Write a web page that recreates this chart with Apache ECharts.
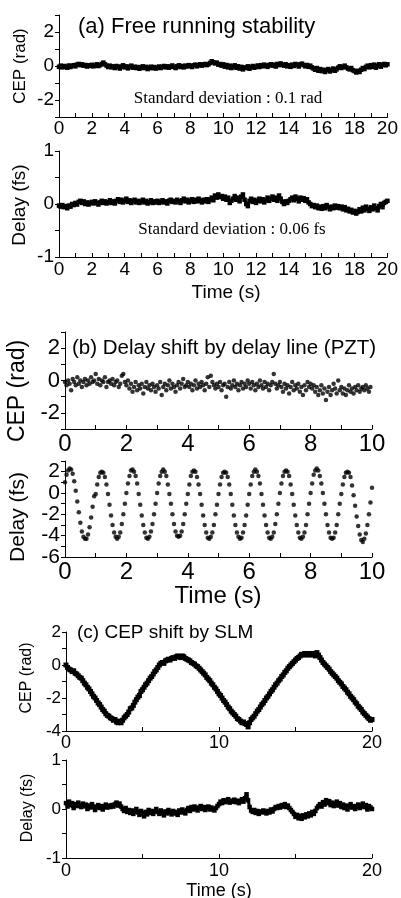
<!DOCTYPE html>
<html>
<head>
<meta charset="utf-8">
<script src="https://cdn.jsdelivr.net/npm/echarts@6/dist/echarts.min.js"></script>
<style>
  html, body { margin: 0; padding: 0; background: #fff; }
  #chart { width: 401px; height: 898px; }
</style>
</head>
<body>
<div id="chart"></div>
<script>
// (a) free running, 0.1 s per sample
const freeStep = 0.1
const cepFreeRun = [
  -0.05, 0.02, -0.08, 0.00, -0.04, -0.10, 0.03, -0.06, 0.01, 0.05,
  -0.02, 0.08, 0.12, 0.05, 0.10, 0.02, 0.06, -0.03, 0.04, 0.00,
  0.07, -0.02, 0.03, 0.10, 0.00, 0.05, 0.12, 0.20, 0.10, 0.02,
  -0.06, 0.02, -0.08, -0.02, -0.12, 0.00, -0.05, -0.15, -0.03, 0.04,
  -0.08, -0.02, -0.14, -0.05, 0.02, -0.10, -0.04, -0.12, -0.06, -0.16,
  -0.08, -0.02, -0.12, -0.05, -0.18, -0.10, -0.04, -0.13, -0.06, -0.15,
  -0.10, -0.03, -0.12, -0.05, 0.00, -0.08, -0.02, -0.10, -0.04, 0.03,
  -0.05, -0.12, -0.02, 0.04, -0.06, 0.00, -0.08, 0.02, -0.03, 0.05,
  0.00, -0.06, 0.04, 0.08, -0.02, 0.05, 0.10, 0.02, 0.08, 0.12,
  0.05, 0.10, 0.18, 0.28, 0.22, 0.15, 0.20, 0.08, 0.12, 0.02,
  0.10, -0.04, 0.06, -0.08, 0.02, -0.12, -0.03, 0.04, -0.10, -0.02,
  -0.15, -0.05, -0.20, -0.08, -0.12, -0.02, -0.16, -0.06, 0.00, -0.10,
  -0.04, 0.03, -0.06, 0.05, -0.02, 0.08, 0.02, -0.05, 0.06, 0.10,
  0.02, 0.08, -0.03, 0.12, 0.05, 0.15, 0.08, 0.02, 0.10, -0.02,
  0.05, -0.05, 0.08, 0.00, 0.12, 0.06, -0.03, 0.10, 0.14, 0.05,
  -0.02, 0.06, -0.05, 0.02, -0.08, -0.15, -0.22, -0.12, -0.28, -0.18,
  -0.30, -0.22, -0.35, -0.25, -0.18, -0.32, -0.24, -0.15, -0.28, -0.20,
  -0.10, -0.02, -0.12, -0.05, 0.02, -0.08, -0.15, -0.20, -0.12, -0.25,
  -0.30, -0.38, -0.28, -0.35, -0.22, -0.12, -0.18, -0.05, 0.02, -0.08,
  0.05, -0.05, 0.08, -0.10, 0.02, 0.10, -0.04, 0.06, 0.12, 0.04, 0.10
]
const delayFreeRun = [
  -0.03, -0.05, -0.02, -0.06, -0.04, -0.08, -0.03, -0.05, 0.00, -0.02,
  0.02, -0.01, 0.04, 0.06, 0.02, 0.05, 0.00, 0.03, -0.01, 0.02,
  0.04, 0.01, 0.05, 0.02, -0.01, 0.03, 0.06, 0.02, 0.05, 0.01,
  0.03, 0.07, 0.02, 0.05, 0.01, 0.06, 0.09, 0.04, 0.08, 0.03,
  0.06, 0.10, 0.04, 0.07, 0.02, 0.05, 0.08, 0.03, 0.06, 0.02,
  0.05, 0.08, 0.03, 0.06, 0.01, 0.04, 0.07, 0.02, 0.05, 0.03,
  0.06, 0.02, 0.04, 0.07, 0.03, 0.05, 0.01, 0.06, 0.08, 0.04,
  0.06, 0.03, 0.08, 0.05, 0.02, 0.07, 0.10, 0.05, 0.08, 0.03,
  0.06, 0.09, 0.04, 0.08, 0.05, 0.10, 0.06, 0.03, 0.08, 0.05,
  0.09, 0.04, 0.08, 0.12, 0.07, 0.16, 0.12, 0.18, 0.13, 0.15,
  0.10, 0.14, 0.08, 0.12, 0.02, 0.06, 0.10, 0.15, 0.08, 0.12,
  0.05, 0.14, 0.18, 0.08, 0.00, -0.04, 0.06, 0.10, 0.04, 0.08,
  0.02, 0.06, 0.10, 0.05, 0.09, 0.03, 0.07, 0.12, 0.06, 0.10,
  0.14, 0.08, 0.12, 0.06, 0.16, 0.10, 0.04, 0.00, 0.05, 0.02,
  0.06, 0.09, 0.12, 0.07, 0.14, 0.10, 0.05, 0.12, 0.08, 0.11,
  0.06, 0.09, 0.03, 0.00, -0.04, -0.02, -0.06, -0.03, -0.08, -0.05,
  -0.09, -0.04, -0.08, -0.02, -0.06, -0.10, -0.05, -0.08, -0.03, -0.07,
  -0.04, -0.08, -0.05, -0.10, -0.06, -0.12, -0.09, -0.14, -0.11, -0.16,
  -0.13, -0.18, -0.15, -0.10, -0.14, -0.07, -0.12, -0.05, -0.09, -0.13,
  -0.06, -0.10, -0.03, -0.08, -0.12, -0.04, 0.00, -0.06, 0.02, 0.04, 0.06
]

// (b) PZT delay line, 0.05 s per sample
const pztStep = 0.05
const cepPzt = [
  -0.1, -0.3, 0.0, -0.2, -0.6, 0.1, -0.1, -0.3, 0.2, -0.2, 0.0, -0.4, -0.1, 0.1, -0.3, 0.0, -0.2, 0.2, -0.1, 0.0,
  0.4, -0.2, 0.1, -0.3, 0.0, -0.1, 0.2, -0.4, -0.1, 0.0, -0.2, 0.1, -0.3, -0.1, 0.0, -0.4, -0.2, 0.3, 0.4, -0.1,
  -0.3, 0.0, -0.5, -0.2, -0.7, -0.4, -0.1, -0.6, -0.3, -0.5, -0.2, -0.8, -0.4, -0.1, -0.5, -0.3, -0.6, -0.2, -0.4, -0.7,
  -0.3, -0.5, -0.1, -0.9, -0.4, -0.2, -0.6, -0.3, 0.0, -0.5, -0.2, -0.4, -0.7, -0.3, -0.1, -0.5, -0.2, 0.1, -0.4, -0.3,
  -0.1, -0.4, -0.2, -0.6, -0.3, 0.0, -0.5, -0.2, -0.4, -0.1, -0.3, -0.6, -0.2, 0.2, -0.4, 0.3, -0.1, -0.3, -0.5, -0.2,
  -0.4, -0.1, -0.6, -0.3, -0.2, -1.0, -0.4, -0.1, -0.5, -0.3, 0.0, -0.4, -0.2, -0.6, -0.3, -0.1, -0.5, -0.2, -0.4, 0.0,
  -0.2, -0.5, -0.1, -0.3, -0.6, -0.2, -0.4, 0.0, -0.3, -0.5, -0.1, -0.4, -0.2, -0.6, -0.3, -0.1, 0.4, -0.2, -0.5, -0.3,
  -0.1, -0.4, -0.7, -0.2, -0.5, -0.3, -0.8, -0.4, -0.1, -0.6, -0.3, -0.5, -0.2, -0.7, -0.4, -0.9, -0.3, -0.6, -0.1, -0.4,
  -0.2, -0.5, -0.3, -0.7, -0.4, -0.9, -0.6, -0.3, -0.8, -0.5, -1.2, -0.7, -0.4, -0.9, -0.6, -0.2, -0.5, -0.8, 0.0, -0.6,
  -0.4, -0.8, -0.5, -0.9, -0.6, -0.3, -0.7, -0.5, -0.8, -0.4, -0.6, -0.3, -0.7, -0.5, -0.4, -0.6, -0.3, -0.5, -0.7, -0.4
]
const delayPzt = [
  1.0, 1.7, 2.1, 2.3, 2.2, 1.8, 1.1, 0.2, -0.8, -1.8, -2.8, -3.6, -4.1, -4.3, -4.3, -3.9, -3.2, -2.3, -1.3, -0.3,
  -0.1, 0.8, 1.5, 1.9, 2.0, 1.9, 1.5, 0.8, -0.1, -1.1, -2.1, -3.0, -3.7, -4.1, -4.3, -4.1, -3.7, -2.9, -2.0, -1.0,
  0.0, 0.9, 1.6, 2.1, 2.2, 2.0, 1.6, 0.9, -0.1, -1.1, -2.1, -3.0, -3.7, -4.2, -4.3, -4.1, -3.6, -2.9, -2.0, -1.0,
  0.0, 0.9, 1.6, 2.0, 2.2, 2.0, 1.6, 0.8, -0.1, -1.0, -2.0, -2.9, -3.6, -4.0, -4.1, -4.0, -3.6, -2.9, -2.0, -1.0,
  -0.1, 0.8, 1.6, 2.0, 2.1, 2.0, 1.5, 0.8, -0.1, -1.1, -2.1, -3.0, -3.7, -4.2, -4.3, -4.1, -3.7, -3.0, -2.0, -1.1,
  -0.1, 0.8, 1.5, 1.9, 2.0, 1.9, 1.5, 0.8, -0.1, -1.1, -2.1, -3.0, -3.7, -4.1, -4.3, -4.2, -3.7, -3.0, -2.1, -1.1,
  -0.1, 0.8, 1.6, 2.0, 2.2, 2.0, 1.6, 0.9, -0.1, -1.1, -2.1, -3.0, -3.7, -4.2, -4.3, -4.1, -3.7, -2.9, -2.0, -1.0,
  0.0, 0.9, 1.6, 2.0, 2.1, 2.0, 1.6, 0.8, -0.1, -1.1, -2.1, -3.0, -3.7, -4.2, -4.3, -4.1, -3.7, -3.0, -2.0, -1.0,
  0.0, 0.9, 1.7, 2.1, 2.3, 2.1, 1.6, 0.9, 0.0, -1.0, -2.0, -3.0, -3.7, -4.2, -4.3, -4.2, -3.7, -3.0, -2.0, -1.0,
  -0.1, 0.8, 1.5, 1.9, 2.0, 1.9, 1.5, 0.7, -0.2, -1.2, -2.2, -3.1, -3.9, -4.4, -4.6, -4.3, -3.8, -3.0, -2.0, -0.9,
  0.5
]

// (c) SLM, 0.1 s per sample
const slmStep = 0.1
const cepSlm = [
  0.0, -0.15, -0.25, -0.3, -0.4, -0.35, -0.5, -0.55, -0.65, -0.75,
  -0.8, -0.95, -1.1, -1.2, -1.35, -1.45, -1.6, -1.75, -1.9, -2.0,
  -2.15, -2.3, -2.4, -2.55, -2.7, -2.8, -2.95, -3.05, -3.1, -3.2,
  -3.25, -3.35, -3.3, -3.45, -3.5, -3.4, -3.5, -3.35, -3.2, -3.1,
  -3.0, -2.85, -2.65, -2.6, -2.45, -2.25, -2.1, -1.95, -1.85, -1.6,
  -1.5, -1.35, -1.2, -1.1, -0.95, -0.8, -0.7, -0.55, -0.4, -0.3,
  -0.15, 0.0, 0.1, 0.15, 0.1, 0.25, 0.3, 0.35, 0.3, 0.4,
  0.45, 0.4, 0.5, 0.55, 0.5, 0.45, 0.55, 0.5, 0.4, 0.35,
  0.3, 0.25, 0.15, 0.1, 0.05, -0.05, -0.1, -0.2, -0.3, -0.4,
  -0.5, -0.6, -0.75, -0.85, -0.95, -1.1, -1.2, -1.35, -1.45, -1.6,
  -1.75, -1.85, -2.0, -2.15, -2.25, -2.4, -2.55, -2.65, -2.8, -2.9,
  -3.0, -3.1, -3.25, -3.3, -3.4, -3.5, -3.45, -3.55, -3.6, -3.75,
  -3.5, -3.3, -3.2, -3.1, -2.95, -2.8, -2.7, -2.55, -2.4, -2.3,
  -2.15, -2.0, -1.9, -1.75, -1.6, -1.5, -1.35, -1.2, -1.1, -0.95,
  -0.85, -0.7, -0.6, -0.45, -0.35, -0.2, -0.1, 0.0, 0.1, 0.2,
  0.3, 0.4, 0.45, 0.55, 0.65, 0.6, 0.7, 0.65, 0.6, 0.7,
  0.65, 0.6, 0.7, 0.55, 0.75, 0.6, 0.45, 0.3, 0.15, 0.05,
  -0.05, -0.15, -0.25, -0.4, -0.5, -0.6, -0.7, -0.8, -0.95, -1.05,
  -1.15, -1.3, -1.4, -1.5, -1.65, -1.75, -1.9, -2.0, -2.1, -2.25,
  -2.35, -2.5, -2.6, -2.7, -2.85, -2.95, -3.05, -3.15, -3.25, -3.35, -3.3
]
const delaySlm = [
  0.12, 0.05, 0.15, 0.08, 0.12, 0.02, 0.10, 0.06, 0.13, 0.07,
  0.04, 0.11, 0.06, 0.09, 0.00, 0.07, 0.03, 0.10, 0.05, -0.02,
  0.04, 0.08, 0.02, 0.06, -0.01, 0.05, 0.09, 0.03, 0.07, 0.04,
  0.08, 0.05, 0.10, 0.13, 0.07, 0.11, 0.05, 0.00, -0.04, 0.02,
  -0.06, -0.02, -0.08, -0.03, -0.10, -0.05, 0.00, -0.07, -0.12, -0.04,
  -0.09, -0.15, -0.06, -0.11, -0.02, -0.08, -0.04, -0.10, -0.05, 0.00,
  -0.06, -0.10, -0.03, -0.08, -0.13, -0.05, -0.09, -0.02, -0.07, -0.11,
  -0.04, -0.09, -0.06, -0.12, -0.03, -0.07, -0.01, -0.05, -0.09, -0.02,
  0.02, -0.04, 0.04, -0.01, 0.05, 0.01, -0.03, 0.03, 0.06, 0.00,
  0.04, -0.02, 0.02, 0.05, -0.01, 0.03, 0.00, -0.03, 0.02, 0.06,
  0.10, 0.15, 0.12, 0.18, 0.14, 0.16, 0.20, 0.13, 0.17, 0.15,
  0.19, 0.14, 0.17, 0.12, 0.16, 0.20, 0.15, 0.22, 0.30, 0.18,
  0.04, -0.03, -0.06, -0.02, -0.08, -0.04, -0.10, -0.05, -0.07, -0.03,
  -0.06, -0.09, -0.04, -0.07, -0.01, -0.05, 0.00, 0.04, 0.02, 0.06,
  0.03, 0.08, 0.05, 0.10, 0.04, 0.07, 0.02, -0.02, -0.06, -0.10,
  -0.16, -0.12, -0.19, -0.14, -0.20, -0.13, -0.17, -0.11, -0.15, -0.09,
  -0.13, -0.06, -0.10, -0.04, 0.02, 0.06, 0.10, 0.05, 0.14, 0.09,
  0.18, 0.12, 0.16, 0.08, 0.13, 0.06, 0.11, 0.15, 0.07, 0.12,
  0.04, 0.09, 0.02, 0.07, -0.01, 0.05, 0.10, 0.03, 0.06, 0.00,
  0.05, 0.09, 0.02, 0.07, 0.11, 0.04, 0.08, -0.01, 0.06, 0.03, 0.00
]

// tick labels
const time20Labels = [0, 2, 4, 6, 8, 10, 12, 14, 16, 18, 20]
const time20Ticks = [0, 1, 2, 3, 4, 5, 6, 7, 8, 9, 10, 11, 12, 13, 14, 15, 16, 17, 18, 19, 20]
const time10Labels = [0, 2, 4, 6, 8, 10]
const time10Ticks = [0, 1, 2, 3, 4, 5, 6, 7, 8, 9, 10]
const timeSlmLabels = [0, 10, 20]
const timeSlmTicks = [0, 5, 10, 15, 20]
const cep3Labels = [-2, 0, 2]
const cep3Ticks = [-3, -2, -1, 0, 1, 2, 3]
const delay1Labels = [-1, 0, 1]
const delay1Ticks = [-1, -0.5, 0, 0.5, 1]
const delayPztLabels = [-6, -4, -2, 0, 2]
const delayPztTicks = [-6, -5, -4, -3, -2, -1, 0, 1, 2, 3]
const cepSlmLabels = [-4, -2, 0, 2]
const cepSlmTicks = [-4, -3, -2, -1, 0, 1, 2]

const SANS = 'Liberation Sans, Arial, sans-serif'
const SERIF = 'Liberation Serif, Times New Roman, serif'

const toPairs = (arr, step) => arr.map((v, i) => [+(i * step).toFixed(2), v])

const grids = [
  { left: 59, top: 15, width: 331, height: 102 },
  { left: 59, top: 151, width: 331, height: 106 },
  { left: 65, top: 332, width: 307, height: 97 },
  { left: 65, top: 461, width: 307, height: 96 },
  { left: 66, top: 632, width: 306, height: 99 },
  { left: 66, top: 760, width: 306, height: 98 }
]

function xAxisFor(gi, max, interval, labels, ticks, fontSize, margin) {
  return {
    type: 'value', gridIndex: gi, min: 0, max: max, interval: interval,
    axisLine: { show: true, onZero: false, lineStyle: { color: '#000', width: 1 } },
    axisTick: { show: true, inside: true, length: 4, customValues: ticks, lineStyle: { color: '#000' } },
    axisLabel: {
      customValues: labels, fontSize: fontSize, fontFamily: SANS, color: '#000', margin: margin,
      hideOverlap: false, showMinLabel: true, showMaxLabel: true
    },
    splitLine: { show: false }
  }
}

function yAxisFor(gi, min, max, interval, labels, ticks, fontSize) {
  return {
    type: 'value', gridIndex: gi, min: min, max: max, interval: interval,
    axisLine: { show: true, onZero: false, lineStyle: { color: '#000', width: 1 } },
    axisTick: { show: true, inside: false, length: 4, customValues: ticks, lineStyle: { color: '#000' } },
    axisLabel: {
      customValues: labels, fontSize: fontSize, lineHeight: 14, fontFamily: SANS, color: '#000', margin: 5,
      hideOverlap: false, showMinLabel: true, showMaxLabel: true
    },
    splitLine: { show: false }
  }
}

function traceSeries(gi, data, step, width) {
  return {
    type: 'line', xAxisIndex: gi, yAxisIndex: gi,
    data: toPairs(data, step),
    symbol: 'rect', symbolSize: width + 1.5, showSymbol: true,
    itemStyle: { color: '#000' },
    lineStyle: { color: '#000', width: width },
    silent: true
  }
}

function dotSeries(gi, data, step) {
  return {
    type: 'scatter', xAxisIndex: gi, yAxisIndex: gi,
    data: toPairs(data, step),
    symbol: 'circle', symbolSize: 4.5,
    itemStyle: { color: '#000' },
    silent: true
  }
}

function label(text, x, y, size, opts) {
  opts = opts || {}
  return {
    type: 'text', x: x, y: y, rotation: opts.rotate ? Math.PI / 2 : 0, silent: true,
    style: {
      text: text, fill: '#000',
      font: size + 'px ' + (opts.serif ? SERIF : SANS),
      textAlign: opts.align || 'center', textVerticalAlign: 'middle'
    }
  }
}

const chart = echarts.init(document.getElementById('chart'), null, { renderer: 'canvas' })

chart.setOption({
  backgroundColor: '#fff',
  animation: false,
  grid: grids,
  xAxis: [
    xAxisFor(0, 20, 1, time20Labels, time20Ticks, 19, 2),
    xAxisFor(1, 20, 1, time20Labels, time20Ticks, 19, 3),
    xAxisFor(2, 10, 1, time10Labels, time10Ticks, 24, 3),
    xAxisFor(3, 10, 1, time10Labels, time10Ticks, 24, 3),
    xAxisFor(4, 20, 5, timeSlmLabels, timeSlmTicks, 18, 3),
    xAxisFor(5, 20, 5, timeSlmLabels, timeSlmTicks, 18, 4)
  ],
  yAxis: [
    yAxisFor(0, -3, 3, 1, cep3Labels, cep3Ticks, 19),
    yAxisFor(1, -1, 1, 0.5, delay1Labels, delay1Ticks, 19),
    yAxisFor(2, -3, 3, 1, cep3Labels, cep3Ticks, 22),
    yAxisFor(3, -6, 3, 1, delayPztLabels, delayPztTicks, 21),
    yAxisFor(4, -4, 2, 1, cepSlmLabels, cepSlmTicks, 17),
    yAxisFor(5, -1, 1, 0.5, delay1Labels, delay1Ticks, 17)
  ],
  series: [
    traceSeries(0, cepFreeRun, freeStep, 3),
    traceSeries(1, delayFreeRun, freeStep, 3),
    dotSeries(2, cepPzt, pztStep),
    dotSeries(3, delayPzt, pztStep),
    traceSeries(4, cepSlm, slmStep, 3.5),
    traceSeries(5, delaySlm, slmStep, 3)
  ],
  graphic: [
    // panel (a)
    label('(a) Free running stability', 78, 27, 22, { align: 'left' }),
    label('CEP (rad)', 20, 66, 17, { rotate: true }),
    label('Standard deviation : 0.1 rad', 228, 99, 17, { serif: true }),
    label('Delay (fs)', 20, 205, 19, { rotate: true }),
    label('Standard deviation : 0.06 fs', 232, 230, 17, { serif: true }),
    label('Time (s)', 226, 293, 19),
    // panel (b)
    label('(b) Delay shift by delay line (PZT)', 72, 348, 20.5, { align: 'left' }),
    label('CEP (rad)', 18, 391, 23, { rotate: true }),
    label('Delay (fs)', 18, 517, 21, { rotate: true }),
    label('Time (s)', 218, 596, 24),
    // panel (c)
    label('(c) CEP shift by SLM', 77, 633, 19, { align: 'left' }),
    label('CEP (rad)', 27, 678, 16, { rotate: true }),
    label('Delay (fs)', 28, 808, 16, { rotate: true }),
    label('Time (s)', 219, 891, 18)
  ]
})
</script>
</body>
</html>
